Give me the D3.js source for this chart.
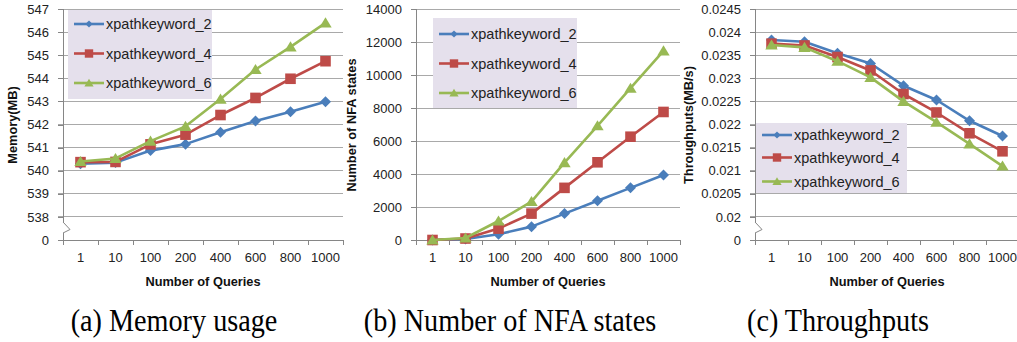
<!DOCTYPE html>
<html>
<head>
<meta charset="utf-8">
<script src="https://cdn.jsdelivr.net/npm/d3@7"></script>
<style>
  html, body { margin: 0; padding: 0; background: #fff; }
  svg { display: block; }
</style>
</head>
<body>
<svg id="fig" width="1017" height="342"></svg>
<script>
// Query counts along the x axis
const queries = ["1", "10", "100", "200", "400", "600", "800", "1000"];
const seriesNames = ["xpathkeyword_2", "xpathkeyword_4", "xpathkeyword_6"];

// (a) Memory usage in MB
const memory2 = [540.3, 540.35, 540.87, 541.15, 541.66, 542.15, 542.55, 542.98];
const memory4 = [540.37, 540.38, 541.14, 541.56, 542.41, 543.15, 543.98, 544.74];
const memory6 = [540.4, 540.53, 541.28, 541.92, 543.1, 544.38, 545.36, 546.4];
// lowest tick is the axis break, labelled 0
const memoryTicks = [537, 538, 539, 540, 541, 542, 543, 544, 545, 546, 547];
const memoryTickLabels = ["0", "538", "539", "540", "541", "542", "543", "544", "545", "546", "547"];

// (b) Number of NFA states
const nfa2 = [0, 60, 350, 810, 1600, 2380, 3160, 3940];
const nfa4 = [0, 90, 690, 1600, 3160, 4710, 6260, 7760];
const nfa6 = [0, 120, 1150, 2330, 4690, 6920, 9200, 11460];
const nfaTicks = [0, 2000, 4000, 6000, 8000, 10000, 12000, 14000];
const nfaTickLabels = ["0", "2000", "4000", "6000", "8000", "10000", "12000", "14000"];

// (c) Throughput in MB/s
const tput2 = [0.02383, 0.02379, 0.02354, 0.02332, 0.02284, 0.02253, 0.02208, 0.02175];
const tput4 = [0.02375, 0.02371, 0.02346, 0.02317, 0.02266, 0.02226, 0.02181, 0.02142];
const tput6 = [0.02372, 0.02367, 0.02337, 0.02302, 0.0225, 0.02205, 0.02158, 0.0211];
// lowest tick is the axis break, labelled 0
const tputTicks = [0.0195, 0.02, 0.0205, 0.021, 0.0215, 0.022, 0.0225, 0.023, 0.0235, 0.024, 0.0245];
const tputTickLabels = ["0", "0.02", "0.0205", "0.021", "0.0215", "0.022", "0.0225", "0.023", "0.0235", "0.024", "0.0245"];

const colors = ["#4a7ebb", "#be4b48", "#98b954"];
const markers = ["diamond", "square", "triangle"];

const svg = d3.select("#fig");
const FONT = "'Liberation Sans', Arial, sans-serif";

function markerPath(type, s) {
  if (type === "diamond") {
    return `M0,${-s}L${s},0L0,${s}L${-s},0Z`;
  } else if (type === "square") {
    return `M${-s},${-s}H${s}V${s}H${-s}Z`;
  } else {
    const h = s * 1.8;
    return `M0,${-h * 0.55}L${s * 1.1},${h * 0.45}L${-s * 1.1},${h * 0.45}Z`;
  }
}

function panel(cfg) {
  const g = svg.append("g");
  const top = 9, bottom = 240;

  const x = d3.scaleBand().domain(queries).range([cfg.x0, cfg.x1]);
  const y = d3.scaleLinear().domain(cfg.domain).range([bottom, top]);

  const labelMap = new Map(cfg.ticks.map((t, i) => [t, cfg.tickLabels[i]]));

  // horizontal gridlines
  g.append("g")
    .selectAll("line")
    .data(cfg.ticks.filter(t => t !== cfg.domain[0]))
    .join("line")
    .attr("x1", cfg.x0 - 5).attr("x2", cfg.x1)
    .attr("y1", d => y(d)).attr("y2", d => y(d))
    .attr("stroke", "#a9a9a9").attr("stroke-width", 1)
    .attr("shape-rendering", "crispEdges");

  // y axis
  const yAxis = d3.axisLeft(y)
    .tickValues(cfg.ticks)
    .tickFormat(d => labelMap.get(d))
    .tickSize(5)
    .tickPadding(9);
  const ya = g.append("g")
    .attr("transform", `translate(${cfg.x0},0)`)
    .call(yAxis);
  ya.select(".domain").attr("stroke", "#868686").attr("d", `M-5,${top}H0V${bottom}`).attr("shape-rendering", "crispEdges");
  ya.selectAll(".tick line").attr("stroke", "#868686").attr("shape-rendering", "crispEdges");
  ya.selectAll(".tick text")
    .attr("font-family", FONT).attr("font-size", 13).attr("fill", "#222");

  // x axis
  const xAxis = d3.axisBottom(x).tickSize(0).tickPadding(13);
  const xa = g.append("g")
    .attr("transform", `translate(0,${bottom})`)
    .call(xAxis);
  xa.select(".domain").attr("stroke", "#868686").attr("d", `M${cfg.x0},0H${cfg.x1}`).attr("shape-rendering", "crispEdges");
  xa.selectAll(".tick text")
    .attr("font-family", FONT).attr("font-size", 13).attr("fill", "#222");
  // tick marks on band boundaries
  g.append("g")
    .selectAll("line")
    .data(queries.concat(["end"]))
    .join("line")
    .attr("x1", (d, i) => cfg.x0 + i * x.step())
    .attr("x2", (d, i) => cfg.x0 + i * x.step())
    .attr("y1", bottom).attr("y2", bottom + 5)
    .attr("stroke", "#868686")
    .attr("shape-rendering", "crispEdges");

  // axis break mark
  if (cfg.brk) {
    const b0 = y(cfg.domain[0]) - 18, b1 = y(cfg.domain[0]) - 7;
    g.append("rect").attr("x", cfg.x0 - 2).attr("y", b0).attr("width", 4).attr("height", b1 - b0).attr("fill", "#fff");
    g.append("path")
      .attr("d", `M${cfg.x0},${b0}L${cfg.x0 + 7},${(b0 + b1) / 2 + 2}L${cfg.x0},${b1}`)
      .attr("fill", "none").attr("stroke", "#868686").attr("stroke-width", 1);
  }

  // series
  const cx = d => x(d) + x.bandwidth() / 2;
  cfg.series.forEach((vals, si) => {
    const line = d3.line().x((d, i) => cx(queries[i])).y(d => y(d));
    g.append("path")
      .datum(vals)
      .attr("d", line)
      .attr("fill", "none")
      .attr("stroke", colors[si])
      .attr("stroke-width", 2.6)
      .attr("stroke-linejoin", "round");
    const size = si === 0 ? 5.5 : (si === 1 ? 5.3 : 5.6);
    g.append("g")
      .selectAll("path")
      .data(vals)
      .join("path")
      .attr("transform", (d, i) => `translate(${cx(queries[i])},${y(d)})`)
      .attr("d", markerPath(markers[si], size))
      .attr("fill", colors[si]);
  });

  // legend
  const lg = g.append("g");
  lg.append("rect")
    .attr("x", cfg.legend.x).attr("y", cfg.legend.y)
    .attr("width", cfg.legend.w).attr("height", cfg.legend.h)
    .attr("fill", "#e5e0ec");
  seriesNames.forEach((name, si) => {
    const ly = cfg.legend.rows[si];
    const lx = cfg.legend.x + 6;
    lg.append("line")
      .attr("x1", lx).attr("x2", lx + 30)
      .attr("y1", ly).attr("y2", ly)
      .attr("stroke", colors[si]).attr("stroke-width", 2.6);
    lg.append("path")
      .attr("transform", `translate(${lx + 15},${ly})`)
      .attr("d", markerPath(markers[si], si === 0 ? 3.6 : 4.2))
      .attr("fill", colors[si]);
    lg.append("text")
      .attr("x", lx + 32).attr("y", ly)
      .attr("dy", "0.35em")
      .attr("font-family", FONT).attr("font-size", 14.5).attr("fill", "#222")
      .text(name);
  });

  // axis titles
  g.append("text")
    .attr("transform", `translate(${cfg.ytitleX},125) rotate(-90)`)
    .attr("text-anchor", "middle").attr("dy", "0.35em")
    .attr("font-family", FONT).attr("font-size", 12.8).attr("font-weight", "bold").attr("fill", "#111")
    .text(cfg.ytitle);
  g.append("text")
    .attr("x", (cfg.x0 + cfg.x1) / 2).attr("y", 282)
    .attr("text-anchor", "middle").attr("dy", "0.35em")
    .attr("font-family", FONT).attr("font-size", 12.8).attr("font-weight", "bold").attr("fill", "#111")
    .text("Number of Queries");

  // caption
  g.append("text")
    .attr("transform", `translate(${cfg.capX},331) scale(0.91,1)`)
    .attr("text-anchor", "middle")
    .attr("font-family", "'Liberation Serif', 'Times New Roman', serif")
    .attr("font-size", 31).attr("fill", "#000")
    .text(cfg.caption);
}

panel({
  x0: 63, x1: 343, domain: [537, 547], ticks: memoryTicks, tickLabels: memoryTickLabels, brk: true,
  series: [memory2, memory4, memory6],
  legend: { x: 68, y: 10, w: 144, h: 89, rows: [24, 53.5, 83] },
  ytitle: "Memory(MB)", ytitleX: 13, caption: "(a) Memory usage", capX: 174
});
panel({
  x0: 416, x1: 680, domain: [0, 14000], ticks: nfaTicks, tickLabels: nfaTickLabels, brk: false,
  series: [nfa2, nfa4, nfa6],
  legend: { x: 433, y: 18, w: 144, h: 90, rows: [34, 63.5, 93] },
  ytitle: "Number of NFA states", ytitleX: 352, caption: "(b) Number of NFA states", capX: 510
});
panel({
  x0: 755, x1: 1019, domain: [0.0195, 0.0245], ticks: tputTicks, tickLabels: tputTickLabels, brk: true,
  series: [tput2, tput4, tput6],
  legend: { x: 756, y: 123, w: 151, h: 70, rows: [135, 157.5, 181.5] },
  ytitle: "Throughputs(MB/s)", ytitleX: 689, caption: "(c) Throughputs", capX: 838
});
</script>
</body>
</html>
